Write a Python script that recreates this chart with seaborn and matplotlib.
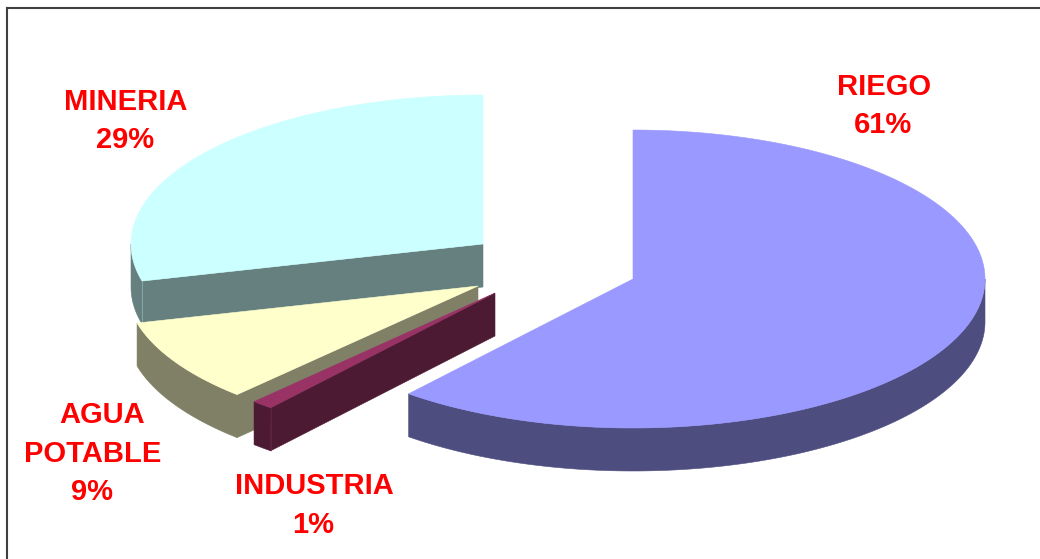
import numpy as np
import matplotlib
matplotlib.use("Agg")
import matplotlib.pyplot as plt
import seaborn as sns

# Water use by sector, percent of the total, clockwise from 12 o'clock
sectors = ["RIEGO", "INDUSTRIA", "AGUA POTABLE", "MINERIA"]
shares = [61, 1, 9, 29]

# Pie geometry in figure pixels
apexes = [(633, 279), (495, 293), (478, 286), (483, 244)]
RX, RY, DEPTH = 352, 149, 43
draw_order = [3, 2, 1, 0]
seamed = {"MINERIA", "INDUSTRIA"}

top_colors = sns.color_palette(["#9999FF", "#993366", "#FFFFCC", "#CCFFFF"])
wall_colors = sns.color_palette(["#4D4D80", "#4D1A33", "#808066", "#668080"])

# Label lines: text source, centre x, baseline y
label_lines = {
    "RIEGO": [("RIEGO", 884, 95), (None, 883, 133)],
    "INDUSTRIA": [("INDUSTRIA", 314, 494), (None, 313, 533)],
    "AGUA POTABLE": [("AGUA", 102, 423), ("POTABLE", 93, 462), (None, 92, 500)],
    "MINERIA": [("MINERIA", 126, 110), (None, 125, 148)],
}

sns.set_theme(style="white", font="Liberation Sans")
fig = plt.figure(figsize=(10.40, 5.59), dpi=100, facecolor="white")
ax = fig.add_axes([7 / 1040, 0, 1033 / 1040, 551 / 559])
ax.set_xlim(7, 1040)
ax.set_ylim(559, 8)
ax.set_xticks([])
ax.set_yticks([])
sns.despine(ax=ax, top=False, left=False, right=True, bottom=True)
for side in ("top", "left"):
    ax.spines[side].set_linewidth(1.5)
    ax.spines[side].set_color("#404040")


def rim(cx, cy, angles):
    """Rim points of the top face for clockwise angles in degrees."""
    t = np.radians(angles)
    return cx + RX * np.sin(t), cy - RY * np.cos(t)


def fill(xs, ys, color, z):
    ax.fill(xs, ys, facecolor=color, edgecolor=color, linewidth=0.4, zorder=z)


edges = np.concatenate([[0], np.cumsum(shares)]) * 3.6
for layer, i in enumerate(draw_order):
    a, b = edges[i], edges[i + 1]
    cx, cy = apexes[i]
    z = 2 + layer

    # Cut face along the leading edge, seen only on the far half of the turn
    if 180 < a < 360:
        rx0, ry0 = rim(cx, cy, np.array([a]))
        fill([cx, rx0[0], rx0[0], cx], [cy, ry0[0], ry0[0] + DEPTH, cy + DEPTH],
             wall_colors[i], z)

    # Outer wall on the near half of the ellipse
    lo, hi = max(a, 90), min(b, 270)
    if lo < hi:
        arc_x, arc_y = rim(cx, cy, np.linspace(lo, hi, 120))
        fill(np.r_[arc_x, arc_x[::-1]], np.r_[arc_y, arc_y[::-1] + DEPTH],
             wall_colors[i], z)

    # Top face
    top_x, top_y = rim(cx, cy, np.linspace(a, b, 240))
    fill(np.r_[cx, top_x], np.r_[cy, top_y], top_colors[i], z)

    # Thin highlight where the cut face meets the outer wall
    if sectors[i] in seamed:
        sx, sy = rim(cx, cy, np.array([a]))
        ax.plot([sx[0], sx[0]], [sy[0], sy[0] + DEPTH], color=top_colors[i],
                alpha=0.35, linewidth=0.6, zorder=z)

for name, share in zip(sectors, shares):
    for text, x, y in label_lines[name]:
        ax.text(x, y, text if text else f"{share}%", ha="center", va="baseline",
                color="#FF0000", fontsize=21, fontweight="bold",
                family="Liberation Sans", zorder=10)

fig.savefig("out.png", dpi=100, facecolor="white")
